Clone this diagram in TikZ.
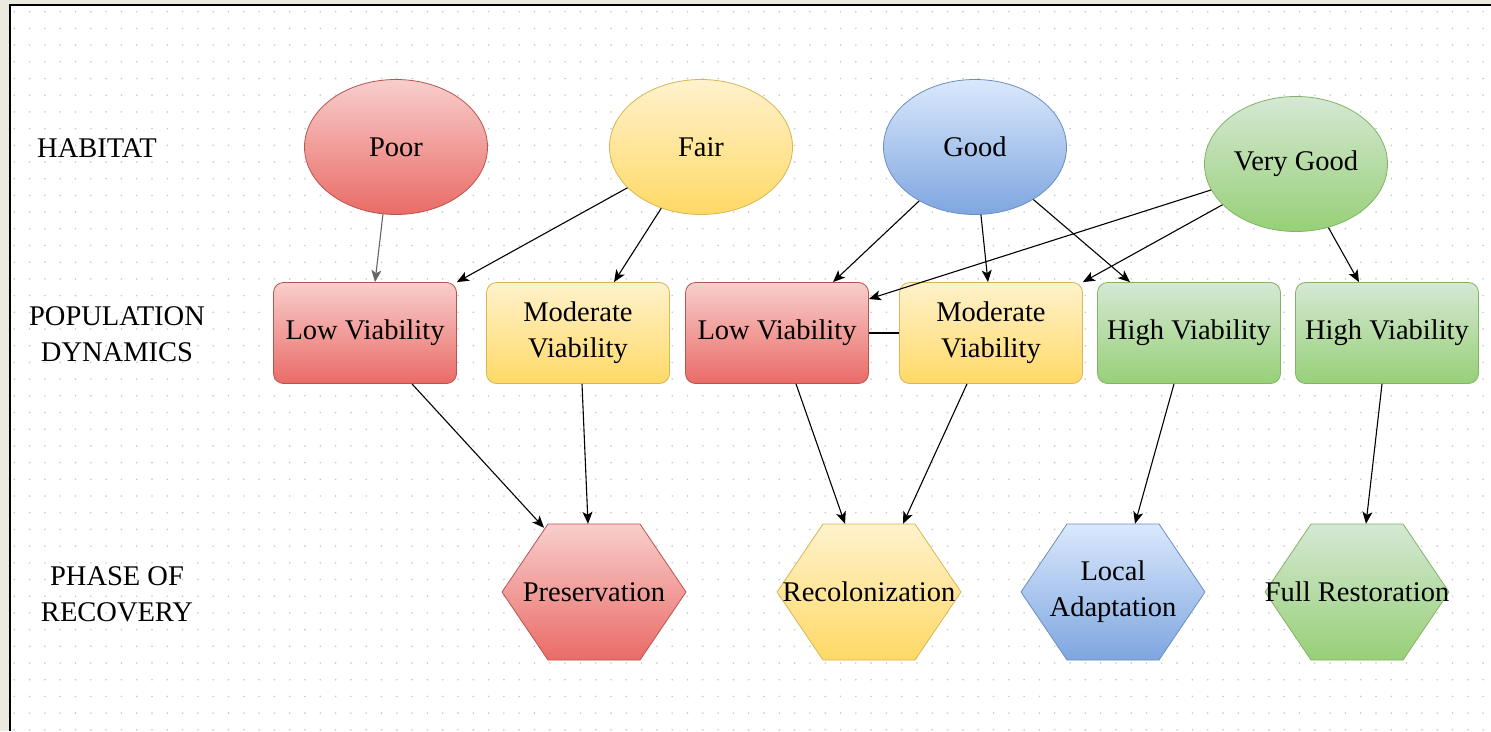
\documentclass[tikz,border=0pt]{standalone}
\usepackage{fontspec}
\setmainfont{Liberation Serif}
\newfontfamily\labelfont{Liberation Serif}
\usetikzlibrary{shapes.geometric,arrows.meta}
\definecolor{redT}{HTML}{F8CECC}\definecolor{redB}{HTML}{EA6B66}\definecolor{redD}{HTML}{B85450}
\definecolor{yelT}{HTML}{FFF2CC}\definecolor{yelB}{HTML}{FFD966}\definecolor{yelD}{HTML}{D6B656}
\definecolor{bluT}{HTML}{DAE8FC}\definecolor{bluB}{HTML}{7EA6E0}\definecolor{bluD}{HTML}{6C8EBF}
\definecolor{greT}{HTML}{D5E8D4}\definecolor{greB}{HTML}{97D077}\definecolor{greD}{HTML}{82B366}
\definecolor{outside}{HTML}{ECEADF}
\definecolor{griddot}{HTML}{C8C8C8}
\tikzset{
  txt/.style={font=\labelfont\fontsize{28.5}{36}\selectfont, align=center, text=black},
  hab/.style={txt, ellipse, minimum width=183pt, minimum height=135pt, inner sep=0pt, line width=0.8pt},
  pop/.style={txt, rectangle, rounded corners=10pt, minimum width=183pt, minimum height=101pt, inner sep=0pt, line width=0.8pt},
  phasebox/.style={txt, rectangle, minimum width=184pt, minimum height=136pt, inner sep=0pt},
  redfill/.style={top color=redT, bottom color=redB, draw=redD},
  yelfill/.style={top color=yelT, bottom color=yelB, draw=yelD},
  blufill/.style={top color=bluT, bottom color=bluB, draw=bluD},
  grefill/.style={top color=greT, bottom color=greB, draw=greD},
  conn/.style={line width=1.1pt, -{Stealth[length=12pt,width=10pt,inset=3pt]}},
  greyconn/.style={conn, draw=black!60},
  rowlabel/.style={txt}
}
\newcommand\myhex[2]{%
  \shade[#2, line width=0.8pt] (#1-92,592) -- (#1-46,524) -- (#1+46,524) -- (#1+92,592) -- (#1+46,660) -- (#1-46,660) -- cycle;}
\begin{document}
\begin{tikzpicture}[x=1pt,y=-1pt]
\useasboundingbox (0,0) rectangle (1491,731);
\fill[outside] (0,0) rectangle (1491,731);
\fill[white] (10,5) rectangle (1491,731);
\foreach \i in {0,...,96} {\foreach \j in {0,...,43} {\fill[griddot] (14.3+\i*15.3, 11.7+\j*16.7) circle (0.9);}}
\draw[line width=1.6pt, black] (10,731) -- (10,5) -- (1491,5);

% row labels
\node[rowlabel] (lhab) at (97,148) {HABITAT};
\node[rowlabel] (lpop) at (117,334) {POPULATION\\DYNAMICS};
\node[rowlabel] (lrec) at (117,594) {PHASE OF\\RECOVERY};

% habitat
\node[hab, redfill] (poor) at (396,147) {Poor};
\node[hab, yelfill] (fair) at (701,147) {Fair};
\node[hab, blufill] (good) at (975,147) {Good};
\node[hab, grefill] (vgood) at (1296,164) {Very Good};

% population dynamics
\node[pop, redfill] (lv1) at (365,333) {Low Viability};
\node[pop, yelfill] (mv1) at (578,333) {Moderate\\Viability};
\node[pop, redfill] (lv2) at (777,333) {Low Viability};
\node[pop, yelfill] (mv2) at (991,333) {Moderate\\Viability};
\node[pop, grefill] (hv1) at (1189,333) {High Viability};
\node[pop, grefill] (hv2) at (1387,333) {High Viability};

% phases of recovery
\myhex{594}{redfill}
\myhex{869}{yelfill}
\myhex{1113}{blufill}
\myhex{1357}{grefill}
\node[phasebox] (pres) at (594,592) {Preservation};
\node[phasebox] (rec) at (869,592) {Recolonization};
\node[phasebox] (la) at (1113,592) {Local\\Adaptation};
\node[phasebox] (fr) at (1357,592) {Full Restoration};

% connectors
\draw[greyconn] (poor.259) -- ([xshift=10pt]lv1.north);
\draw[conn] (fair.209) -- (lv1.north east);
\draw[conn] (fair.237) -- ([xshift=36pt]mv1.north);
\draw[conn] (good.224) -- ([xshift=56pt]lv2.north);
\draw[conn] (good.275) -- ([xshift=-3pt]mv2.north);
\draw[conn] (good.318) -- ([xshift=-59pt]hv1.north);
\draw[conn] (vgood.197) -- ([yshift=34pt]lv2.east);
\draw[conn] (vgood.209) -- (mv2.north east);
\draw[conn] (vgood.297) -- ([xshift=-28pt]hv2.north);
\draw[line width=1.1pt] (lv2.east) -- (mv2.west);
\draw[conn] ([xshift=47pt]lv1.south) -- ([xshift=-50pt,yshift=-4pt]pres.north);
\draw[conn] ([xshift=4pt]mv1.south) -- ([xshift=-6pt]pres.north);
\draw[conn] ([xshift=19pt]lv2.south) -- ([xshift=-24pt]rec.north);
\draw[conn] ([xshift=-24pt]mv2.south) -- ([xshift=34pt]rec.north);
\draw[conn] ([xshift=-15pt]hv1.south) -- ([xshift=22pt]la.north);
\draw[conn] ([xshift=-5pt]hv2.south) -- ([xshift=9pt]fr.north);
\end{tikzpicture}
\end{document}
